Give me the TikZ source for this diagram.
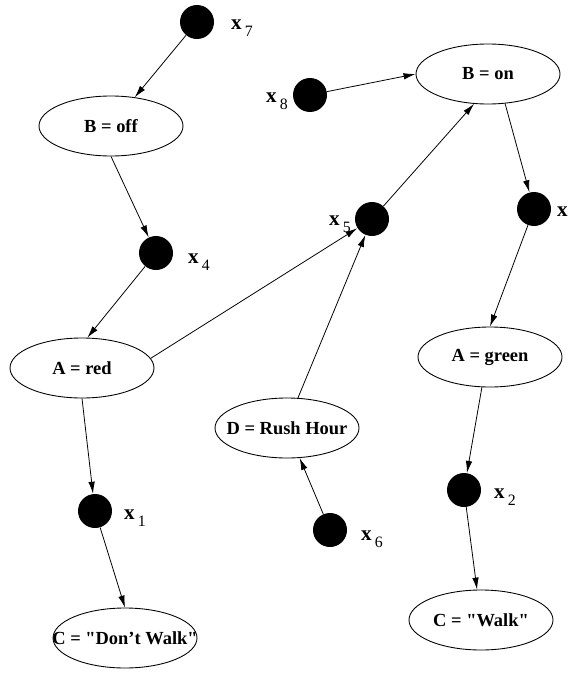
\documentclass[tikz,border=0pt]{standalone}
\usepackage{fontspec}
\setmainfont{Liberation Serif}
\usetikzlibrary{arrows.meta,shapes.geometric}
\newcommand{\xsub}[1]{{\fontsize{12}{14}\selectfont\bfseries x}\kern1.8pt\raisebox{-0.9ex}{\fontsize{9}{11}\selectfont #1}}
\begin{document}
\begin{tikzpicture}[
    dot/.style={circle,fill=black,minimum size=0.68cm,inner sep=0pt},
    state/.style={ellipse,draw,line width=0.5pt,minimum width=2.88cm,minimum height=1.2cm,inner sep=0pt,font=\fontsize{10.5}{12.5}\selectfont\bfseries},
    lbl/.style={inner sep=0pt},
    edge/.style={line width=0.45pt,-{Latex[length=2.4mm,width=1.3mm]}}
  ]
    \useasboundingbox (0,0) rectangle (11.4,-13.48);

    \node[dot] (x7) at (3.94,-0.44) {};
    \node[state] (boff) at (2.22,-2.52) {B = off};
    \node[dot] (x4) at (3.12,-5.06) {};
    \node[state] (ared) at (1.64,-7.36) {A = red};
    \node[dot] (x1) at (1.90,-10.22) {};
    \node[state] (cdw) at (2.50,-12.76) {\makebox[0pt]{C = \textquotedbl Don't Walk\textquotedbl}};

    \node[dot] (x8) at (6.20,-1.90) {};
    \node[state] (bon) at (9.76,-1.48) {B = on};
    \node[dot] (x5) at (7.44,-4.38) {};
    \node[dot] (x3) at (10.68,-4.18) {};
    \node[state] (agreen) at (9.80,-7.14) {A = green};
    \node[dot] (x2) at (9.28,-9.80) {};
    \node[state] (cw) at (9.62,-12.40) {C = \textquotedbl Walk\textquotedbl};

    \node[state] (d) at (5.74,-8.56) {\makebox[0pt]{D = Rush Hour}};
    \node[dot] (x6) at (6.60,-10.60) {};

    \node[lbl] (l7) at (4.84,-0.56) {\xsub{7}};
    \node[lbl] (l4) at (3.98,-5.24) {\xsub{4}};
    \node[lbl] (l1) at (2.70,-10.36) {\xsub{1}};
    \node[lbl] (l8) at (5.54,-2.02) {\xsub{8}};
    \node[lbl] (l5) at (6.80,-4.48) {\xsub{5}};
    \node[lbl] (l3) at (11.36,-4.30) {\xsub{3}};
    \node[lbl] (l2) at (10.10,-9.94) {\xsub{2}};
    \node[lbl] (l6) at (7.44,-10.78) {\xsub{6}};

    \draw[edge] (x7) -- (boff);
    \draw[edge] (boff.south) -- (x4);
    \draw[edge] (x4) -- (ared.80);
    \draw[edge] (ared.8) -- (x5);
    \draw[edge] (ared.south) -- (x1);
    \draw[edge] (x1) -- (cdw.north);
    \draw[edge] (x8) -- (bon.west);
    \draw[edge] (x5) -- (bon.245);
    \draw[edge] (bon.300) -- (x3);
    \draw[edge] (x3) -- (agreen.north);
    \draw[edge] (agreen.255) -- (x2);
    \draw[edge] (x2) -- (cw);
    \draw[edge] (x6) -- (d);
    \draw[edge] (d.70) -- (x5);
  \end{tikzpicture}
\end{document}
